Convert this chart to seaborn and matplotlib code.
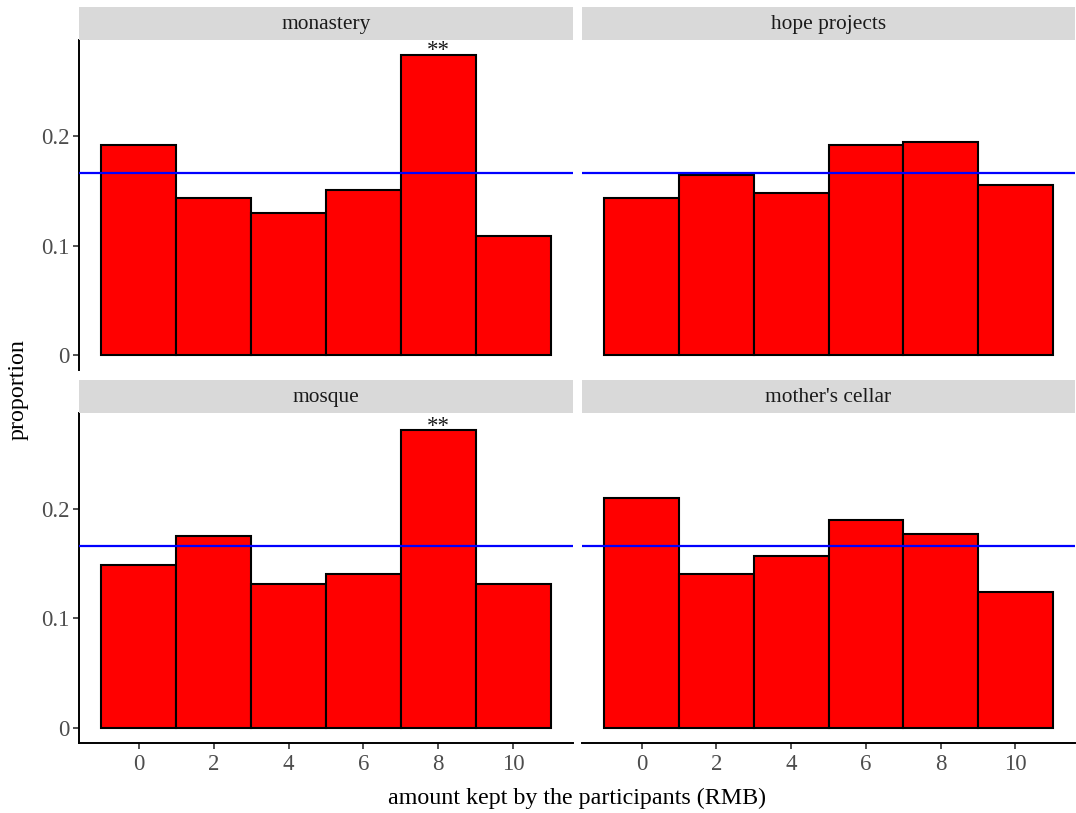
import matplotlib
matplotlib.use("Agg")
import matplotlib.pyplot as plt
import seaborn as sns
import pandas as pd

# ---- data ----
amounts = [0, 2, 4, 6, 8, 10]
panel_names = ["monastery", "hope projects", "mosque", "mother's cellar"]
monastery = [0.192, 0.144, 0.130, 0.151, 0.2745, 0.109]
hope_projects = [0.144, 0.165, 0.1485, 0.192, 0.1945, 0.1555]
mosque = [0.149, 0.1755, 0.1315, 0.1405, 0.272, 0.1315]
mothers_cellar = [0.210, 0.141, 0.1575, 0.190, 0.177, 0.1245]
reference_line = 1 / 6
star_labels = ["**", "", "**", ""]
star_amount = 8
yticks = [0, 0.1, 0.2]
ytick_labels = ["0", "0.1", "0.2"]
xtick_labels = ["0", "2", "4", "6", "8", "10"]

series = [monastery, hope_projects, mosque, mothers_cellar]

sns.set_theme(style="white")
plt.rcParams["font.family"] = ["Liberation Serif", "DejaVu Serif"]

W, H = 1076, 813
fig = plt.figure(figsize=(W / 100, H / 100), dpi=100)
fig.patch.set_facecolor("white")


def frac(x0, y0, x1, y1):
    return [x0 / W, 1 - y1 / H, (x1 - x0) / W, (y1 - y0) / H]


cols = [(79, 573), (582, 1075)]
rows = [((7, 40), (40, 370)), ((380, 413), (413, 742.5))]

for i, (name, vals) in enumerate(zip(panel_names, series)):
    r, c = divmod(i, 2)
    (sy0, sy1), (py0, py1) = rows[r]
    x0, x1 = cols[c]
    ax = fig.add_axes(frac(x0, py0, x1, py1))
    df = pd.DataFrame({"amount": amounts, "proportion": vals})
    sns.barplot(data=df, x="amount", y="proportion", native_scale=True,
                width=1, color="#FF0000", saturation=1, edgecolor="black",
                linewidth=1.5, errorbar=None, ax=ax)
    ax.axhline(reference_line, color="#0000FF", lw=1.6, zorder=3)
    if star_labels[i]:
        v = vals[amounts.index(star_amount)]
        ax.text(star_amount, v - 0.0015, star_labels[i], ha="center", va="baseline",
                fontsize=16.5, color="#1A1A1A", clip_on=False, zorder=4)
    ax.set_xlim(-1.6, 11.6)
    ax.set_ylim(-0.0137, 0.288)
    ax.set_xlabel("")
    ax.set_ylabel("")
    for s in ["top", "right"]:
        ax.spines[s].set_visible(False)
    ax.spines["left"].set_visible(c == 0)
    ax.spines["bottom"].set_visible(r == 1)
    for s in ["left", "bottom"]:
        ax.spines[s].set_linewidth(1.4)
        ax.spines[s].set_color("black")
    ax.set_facecolor("white")
    ax.set_xticks(amounts)
    ax.set_yticks(yticks)
    if r == 1:
        ax.set_xticklabels(xtick_labels)
        ax.tick_params(axis="x", length=4, width=1.2, color="#333333",
                       labelcolor="#4D4D4D", labelsize=16.5, pad=4, bottom=True)
    else:
        ax.tick_params(axis="x", bottom=False, labelbottom=False)
    if c == 0:
        ax.set_yticklabels(ytick_labels)
        ax.tick_params(axis="y", length=4, width=1.2, color="#333333",
                       labelcolor="#4D4D4D", labelsize=16.5, pad=3, left=True)
    else:
        ax.tick_params(axis="y", left=False, labelleft=False)
    ax.grid(False)

    sax = fig.add_axes(frac(x0, sy0, x1, sy1))
    sax.set_facecolor("#D9D9D9")
    sax.set_xticks([])
    sax.set_yticks([])
    for s in sax.spines.values():
        s.set_visible(False)
    sax.text(0.5, 0.47, name, ha="center", va="center", fontsize=15.4,
             color="#1A1A1A", transform=sax.transAxes)

fig.text(577 / W, 1 - 798 / H, "amount kept by the participants (RMB)",
         ha="center", va="center", fontsize=17.3, color="black")
fig.text(18 / W, 1 - 390 / H, "proportion", ha="center", va="center",
         rotation=90, fontsize=17.3, color="black")

fig.savefig("out.png", dpi=100, facecolor="white")
